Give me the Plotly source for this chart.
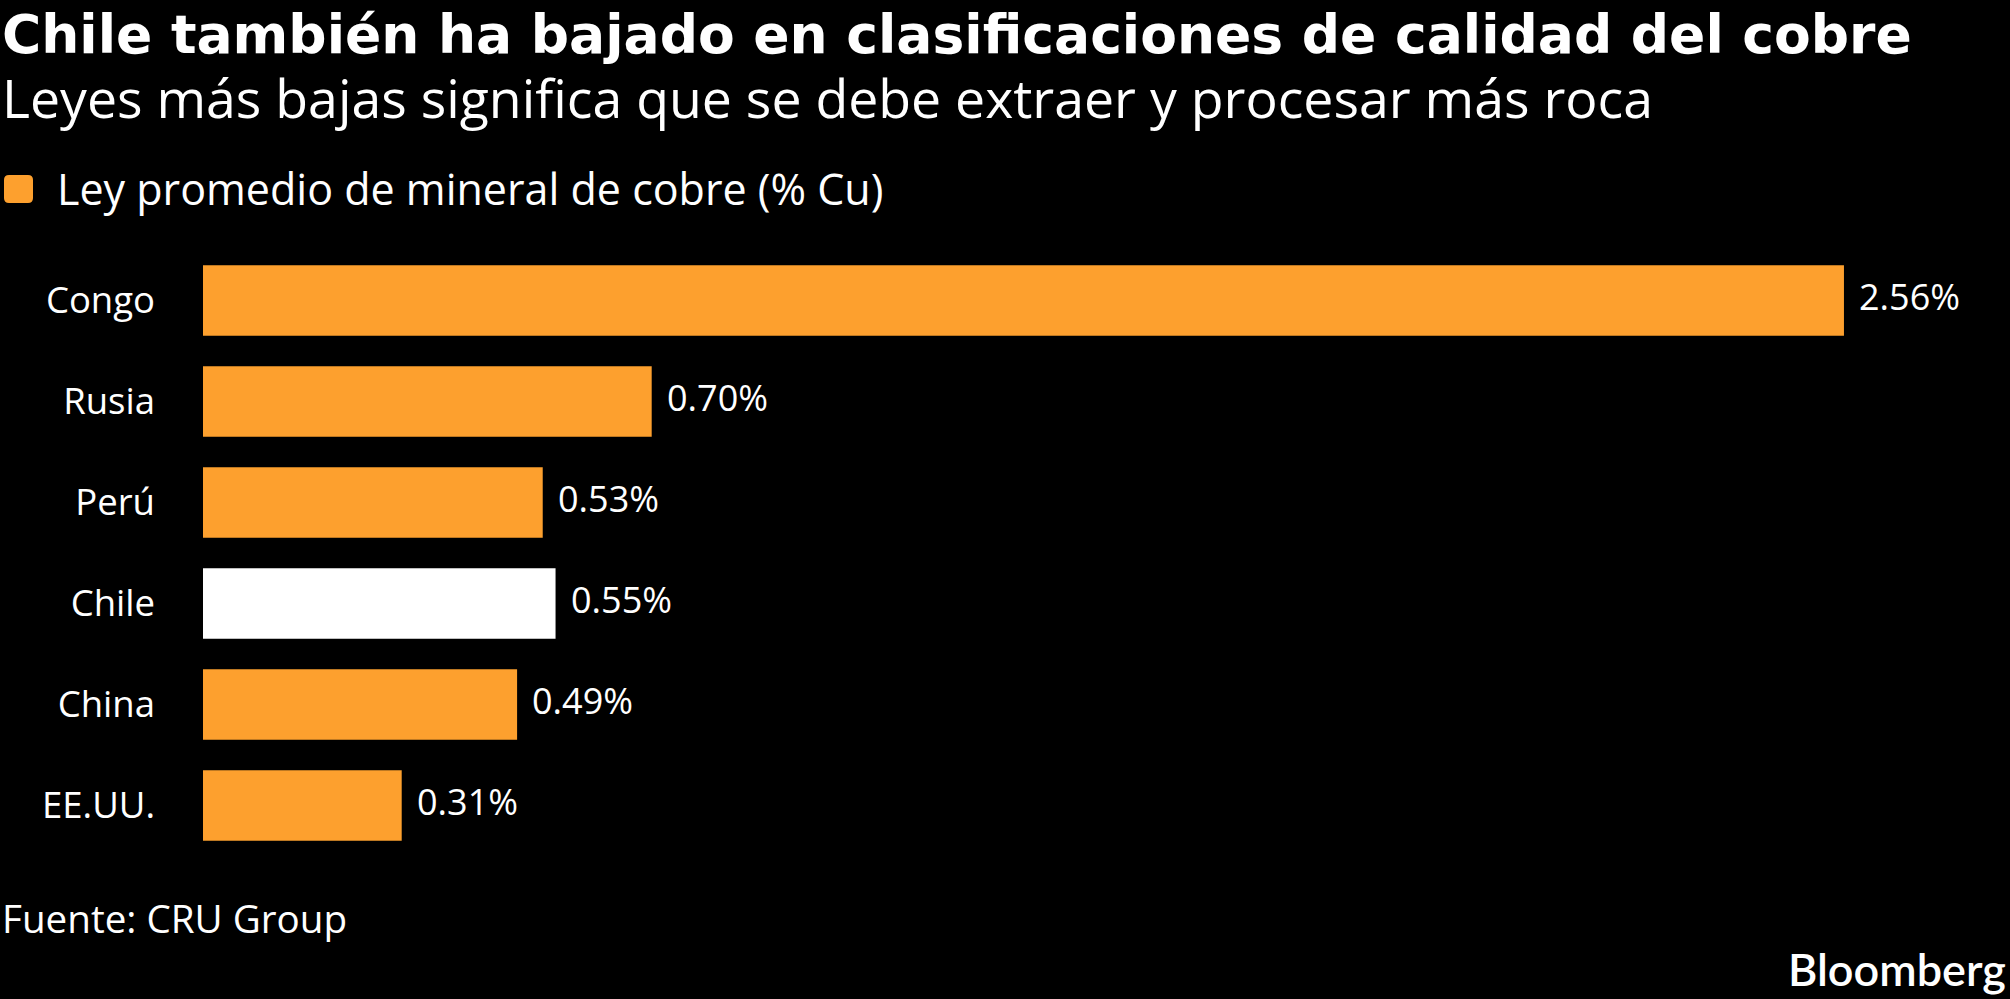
import plotly.graph_objects as go

# ---- data ----
countries = ["Congo", "Rusia", "Perú", "Chile", "China", "EE.UU."]
grades = [2.56, 0.70, 0.53, 0.55, 0.49, 0.31]
value_labels = ["2.56%", "0.70%", "0.53%", "0.55%", "0.49%", "0.31%"]
highlight = "Chile"

title = "Chile también ha bajado en clasificaciones de calidad del cobre"
subtitle = "Leyes más bajas significa que se debe extraer y procesar más roca"
legend_label = "Ley promedio de mineral de cobre (% Cu)"
source = "Fuente: CRU Group"

# ---- style ----
W, H = 2010, 999
ORANGE = "#FDA02E"
WHITE = "#FFFFFF"
BG = "#000000"
FONT = "Open Sans"
L, R, T, B = 203, 10, 250, 143
PW, PH = W - L - R, H - T - B
PX_PER_UNIT = 641.0
xmax = PW / PX_PER_UNIT


def px(x):
    return (x - L) / PW


def py(y):
    return 1 - (y - T) / PH


colors = [WHITE if c == highlight else ORANGE for c in countries]

fig = go.Figure()
fig.add_trace(go.Bar(
    y=countries, x=grades, orientation="h",
    marker=dict(color=colors, line=dict(width=0)),
    showlegend=False, hoverinfo="skip",
))

annotations = []
for c, v, lab in zip(countries, grades, value_labels):
    annotations.append(dict(
        x=v, y=c, xref="x", yref="y", text=lab, showarrow=False,
        xanchor="left", yanchor="middle", xshift=13, yshift=4,
        font=dict(family=FONT, size=36, color=WHITE),
    ))

annotations += [
    dict(x=px(0), y=py(34), xref="paper", yref="paper", text="<b>" + title + "</b>",
         showarrow=False, xanchor="left", yanchor="middle",
         font=dict(family="DejaVu Sans", size=53.5, color=WHITE)),
    dict(x=px(0), y=py(97), xref="paper", yref="paper", text=subtitle,
         showarrow=False, xanchor="left", yanchor="middle",
         font=dict(family=FONT, size=53.6, color=WHITE)),
    dict(x=px(55), y=py(188), xref="paper", yref="paper", text=legend_label,
         showarrow=False, xanchor="left", yanchor="middle",
         font=dict(family=FONT, size=43, color=WHITE)),
    dict(x=px(0), y=py(918), xref="paper", yref="paper", text=source,
         showarrow=False, xanchor="left", yanchor="middle",
         font=dict(family=FONT, size=38.6, color=WHITE)),
    dict(x=px(2008), y=py(969), xref="paper", yref="paper", text="Bloomberg",
         showarrow=False, xanchor="right", yanchor="middle",
         font=dict(family="Lato", size=45, color=WHITE, weight=600)),
]

# rounded legend swatch (pixel corners -> paper)
x0, x1, y0, y1, r = 4, 33, 175, 203, 5
pts = [
    ("M", x0 + r, y0), ("L", x1 - r, y0), ("Q", x1, y0, x1, y0 + r),
    ("L", x1, y1 - r), ("Q", x1, y1, x1 - r, y1), ("L", x0 + r, y1),
    ("Q", x0, y1, x0, y1 - r), ("L", x0, y0 + r), ("Q", x0, y0, x0 + r, y0),
]
path = ""
for p in pts:
    cmd, coords = p[0], p[1:]
    pairs = [f"{px(coords[i])},{py(coords[i + 1])}" for i in range(0, len(coords), 2)]
    path += cmd + " " + " ".join(pairs) + " "
path += "Z"

shapes = [dict(type="path", xref="paper", yref="paper", path=path,
               fillcolor=ORANGE, line=dict(width=0))]

fig.update_layout(
    width=W, height=H,
    paper_bgcolor=BG, plot_bgcolor=BG,
    margin=dict(l=L, r=R, t=T, b=B, pad=0),
    bargap=0.30,
    annotations=annotations,
    shapes=shapes,
    font=dict(family=FONT, color=WHITE),
    xaxis=dict(range=[0, xmax], visible=False, showgrid=False, zeroline=False, fixedrange=True),
    yaxis=dict(
        autorange="reversed", showgrid=False, zeroline=False, showline=False,
        ticks="", ticklabelstandoff=47,
        tickfont=dict(family=FONT, size=36.5, color=WHITE),
        fixedrange=True,
    ),
)

fig.write_html("out.html", config={"displayModeBar": False})
